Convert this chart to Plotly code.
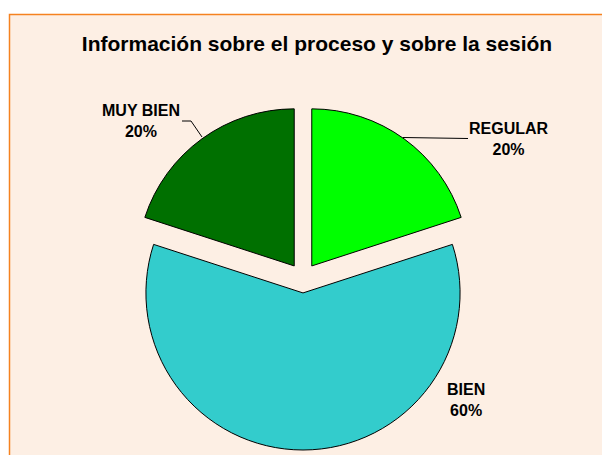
import plotly.graph_objects as go

categories = ["REGULAR", "BIEN", "MUY BIEN"]
values = [20, 60, 20]
colors = ["#00FF00", "#33CCCC", "#007000"]
title_text = "Información sobre el proceso y sobre la sesión"

W, H = 610, 455
OFF = 8  # page body margin offset
total = sum(values)
pcts = [f"{round(v * 100 / total)}%" for v in values]

fig = go.Figure()
fig.add_trace(go.Pie(
    labels=categories,
    values=values,
    sort=False,
    direction="clockwise",
    rotation=0,
    pull=[0.095, 0.095, 0.095],
    marker=dict(colors=colors, line=dict(color="#000000", width=1)),
    textinfo="none",
    hoverinfo="label+percent",
    showlegend=False,
    domain=dict(x=[123 / W, 467 / W], y=[13 / H, 357 / H]),
))

def px(x, y):
    return (x - OFF) / W, 1 - (y - OFF) / H

# chart area background with orange border
bx0, by1 = px(9.5, 14.5)
fig.add_shape(type="rect", xref="paper", yref="paper",
              x0=bx0, x1=1.05, y0=-0.05, y1=by1,
              fillcolor="#FDEFE4", line=dict(color="#F58220", width=1.5),
              layer="below")

font_lbl = dict(family="Liberation Sans, Arial, sans-serif", size=16, color="#000000")

# labels
label_pos = {"REGULAR": (509, 139), "BIEN": (466, 400), "MUY BIEN": (141, 121)}
for cat, pct in zip(categories, pcts):
    x, y = px(*label_pos[cat])
    fig.add_annotation(x=x, y=y, xref="paper", yref="paper",
                       text=f"<b>{cat}</b><br><b>{pct}</b>", showarrow=False,
                       font=font_lbl, align="center", xanchor="center", yanchor="middle")

# leader lines
leader = [
    [(182, 121), (191, 121), (202, 137)],
    [(403, 137.5), (468, 138.5)],
]
for pts in leader:
    for (xa, ya), (xb, yb) in zip(pts[:-1], pts[1:]):
        x0, y0 = px(xa, ya)
        x1, y1 = px(xb, yb)
        fig.add_shape(type="line", xref="paper", yref="paper",
                      x0=x0, y0=y0, x1=x1, y1=y1,
                      line=dict(color="#000000", width=1))

tx, ty = px(317, 44)
fig.update_layout(
    width=W, height=H,
    margin=dict(l=0, r=0, t=0, b=0),
    paper_bgcolor="#FFFFFF",
    plot_bgcolor="rgba(0,0,0,0)",
    title=dict(text=f"<b>{title_text}</b>", x=tx, xanchor="center",
               y=ty, yanchor="middle",
               font=dict(family="Liberation Sans, Arial, sans-serif", size=21, color="#000000")),
)

fig.write_html("out.html")
